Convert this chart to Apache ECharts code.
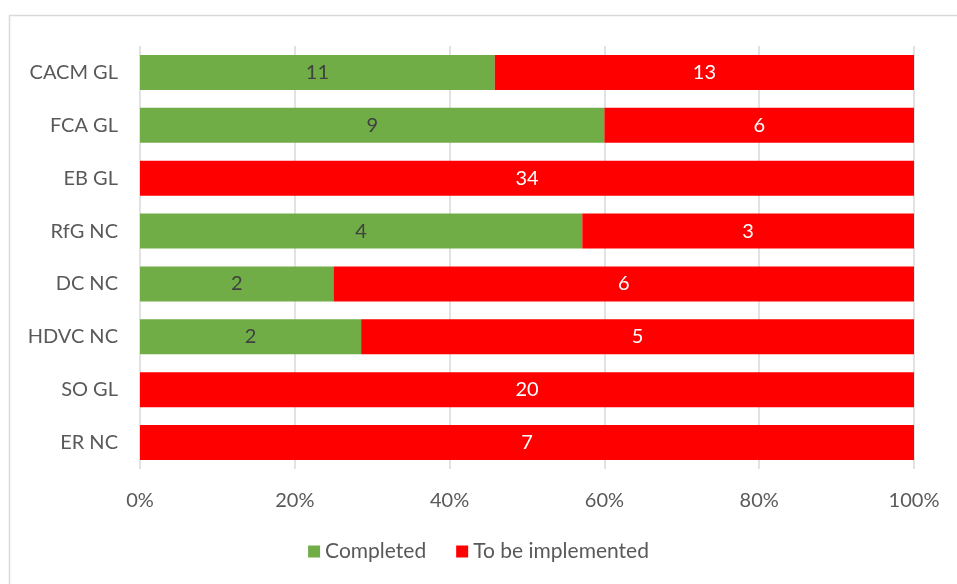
<!DOCTYPE html>
<html><head><meta charset="utf-8">
<script src="https://cdn.jsdelivr.net/npm/echarts@6/dist/echarts.min.js"></script>
<style>html,body{margin:0;padding:0;background:#fff}#c{width:957px;height:584px}</style>
</head><body><div id="c"></div>
<script>
const categories = ['CACM GL','FCA GL','EB GL','RfG NC','DC NC','HDVC NC','SO GL','ER NC'];
const completed = [11, 9, 0, 4, 2, 2, 0, 0];
const toBeImplemented = [13, 6, 34, 3, 6, 5, 20, 7];
const xTicks = ['0%','20%','40%','60%','80%','100%'];

const totals = categories.map((_, i) => completed[i] + toBeImplemented[i]);
const pct = arr => arr.map((v, i) => v / totals[i] * 100);
const font = 'Lato, "Open Sans", sans-serif';

const chart = echarts.init(document.getElementById('c'));
chart.setOption({
  animation: false,
  graphic: [{type:'rect', shape:{x:9.5,y:15.5,width:960,height:600}, style:{fill:'none', stroke:'#d9d9d9', lineWidth:1.5}, silent:true}],
  grid: {left: 140, right: 43, top: 46, bottom: 115},
  legend: {
    bottom: 17, left: 'center', itemWidth: 12, itemHeight: 12, itemGap: 30, itemTextGap: 4,
    icon: 'rect',
    textStyle: {color: '#595959', fontSize: 21, fontFamily: font},
    data: ['Completed', 'To be implemented']
  },
  xAxis: {
    type: 'value', min: 0, max: 100, interval: 20,
    axisLine: {show: false}, axisTick: {show: false},
    splitLine: {lineStyle: {color: '#d9d9d9', width: 1.5}},
    axisLabel: {color: '#595959', fontSize: 20, fontFamily: font, margin: 22,
      formatter: v => xTicks[Math.round(v / 20)]}
  },
  yAxis: {
    type: 'category', data: categories, inverse: true,
    axisLine: {show: false}, axisTick: {show: false},
    axisLabel: {color: '#595959', fontSize: 20, fontFamily: font, margin: 22}
  },
  series: [
    {name: 'Completed', type: 'bar', stack: 's', barWidth: '66%',
      data: pct(completed), itemStyle: {color: '#70ad47'},
      label: {show: true, position: 'inside', color: '#404040', fontSize: 20, fontFamily: font,
        formatter: p => completed[p.dataIndex] ? String(completed[p.dataIndex]) : ''}},
    {name: 'To be implemented', type: 'bar', stack: 's', barWidth: '66%',
      data: pct(toBeImplemented), itemStyle: {color: '#ff0000'},
      label: {show: true, position: 'inside', color: '#ffffff', fontSize: 20, fontFamily: font,
        formatter: p => toBeImplemented[p.dataIndex] ? String(toBeImplemented[p.dataIndex]) : ''}}
  ]
});
</script></body></html>
